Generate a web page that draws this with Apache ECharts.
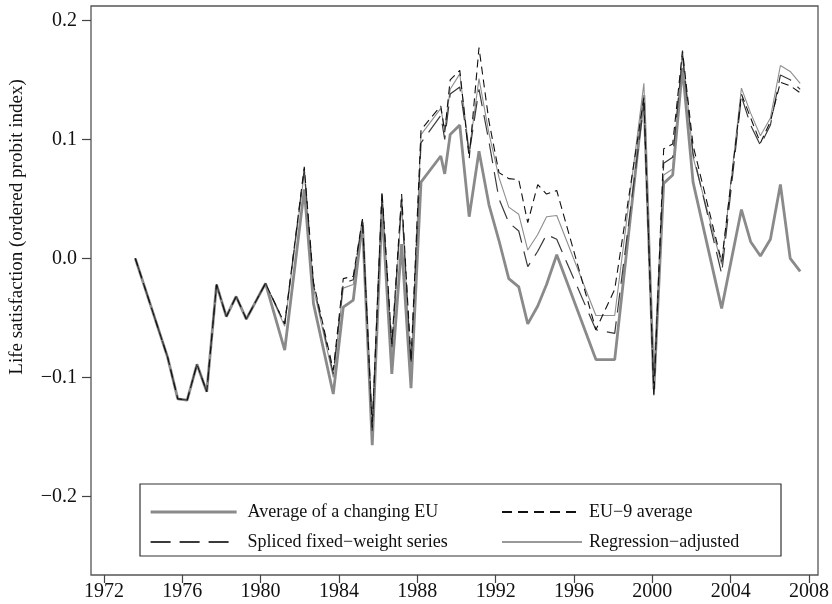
<!DOCTYPE html>
<html>
<head>
<meta charset="utf-8">
<script src="https://cdn.jsdelivr.net/npm/echarts@6/dist/echarts.min.js"></script>
<style>
html,body{margin:0;padding:0;background:#fff;}
#chart{width:832px;height:604px;}
</style>
</head>
<body>
<div id="chart"></div>
<script>
const years = [1973.6, 1975.25, 1975.77, 1976.25, 1976.75, 1977.25, 1977.75, 1978.25, 1978.75, 1979.27,
  1980.25, 1981.23, 1982.23, 1982.7, 1983.71, 1984.22, 1984.73, 1985.2, 1985.7, 1986.2,
  1986.7, 1987.2, 1987.68, 1988.19, 1989.2, 1989.4, 1989.68, 1990.17, 1990.65, 1991.15,
  1991.66, 1992.17, 1992.67, 1993.18, 1993.64, 1994.15, 1994.6, 1995.12, 1997.12, 1998.08,
  1999.57, 2000.08, 2000.58, 2001.04, 2001.54, 2002.08, 2003.54, 2004.55, 2005.02, 2005.52,
  2006.03, 2006.54, 2007.04, 2007.55];

const avgChangingEU = [0, -0.083, -0.118, -0.119, -0.089, -0.112, -0.022, -0.049, -0.032, -0.051,
  -0.021, -0.077, 0.058, -0.038, -0.114, -0.041, -0.035, 0.030, -0.157, 0.043,
  -0.097, 0.012, -0.109, 0.064, 0.086, 0.071, 0.104, 0.112, 0.035, 0.090,
  0.045, 0.015, -0.017, -0.024, -0.055, -0.040, -0.022, 0.003, -0.085, -0.085,
  0.137, -0.110, 0.063, 0.070, 0.160, 0.064, -0.042, 0.041, 0.014, 0.002,
  0.016, 0.062, 0.000, -0.011];

const eu9Average = [0, -0.083, -0.118, -0.119, -0.089, -0.112, -0.022, -0.049, -0.032, -0.051,
  -0.021, -0.055, 0.077, -0.020, -0.094, -0.017, -0.015, 0.033, -0.142, 0.056,
  -0.072, 0.054, -0.086, 0.108, 0.128, 0.106, 0.150, 0.158, 0.084, 0.177,
  0.115, 0.072, 0.067, 0.066, 0.030, 0.062, 0.054, 0.057, -0.060, -0.026,
  0.135, -0.115, 0.092, 0.096, 0.174, 0.095, -0.003, 0.138, 0.118, 0.097,
  0.115, 0.148, 0.145, 0.139];

const splicedFixedWeight = [0, -0.083, -0.118, -0.119, -0.089, -0.112, -0.022, -0.049, -0.032, -0.051,
  -0.021, -0.055, 0.075, -0.022, -0.097, -0.021, -0.018, 0.032, -0.145, 0.054,
  -0.075, 0.050, -0.090, 0.097, 0.120, 0.100, 0.138, 0.144, 0.088, 0.142,
  0.098, 0.050, 0.030, 0.023, -0.007, 0.006, 0.020, 0.016, -0.060, -0.063,
  0.130, -0.114, 0.080, 0.085, 0.170, 0.088, -0.013, 0.136, 0.112, 0.095,
  0.112, 0.154, 0.150, 0.142];

const regressionAdjusted = [0, -0.083, -0.118, -0.119, -0.089, -0.112, -0.022, -0.049, -0.032, -0.051,
  -0.021, -0.057, 0.072, -0.025, -0.100, -0.025, -0.022, 0.032, -0.148, 0.050,
  -0.080, 0.045, -0.095, 0.104, 0.126, 0.108, 0.142, 0.155, 0.090, 0.151,
  0.105, 0.068, 0.043, 0.037, 0.007, 0.020, 0.035, 0.036, -0.048, -0.048,
  0.147, -0.112, 0.070, 0.075, 0.175, 0.085, -0.005, 0.143, 0.122, 0.103,
  0.118, 0.162, 0.157, 0.147];

const xTickValues = [1972, 1976, 1980, 1984, 1988, 1992, 1996, 2000, 2004, 2008];
const yTickValues = [-0.2, -0.1, 0, 0.1, 0.2];

const seriesNames = ['Average of a changing EU', 'EU\u22129 average', 'Spliced fixed\u2212weight series', 'Regression\u2212adjusted'];
const yTitle = 'Life satisfaction (ordered probit index)';

const pairs = arr => years.map((y, i) => [y, arr[i]]);
const FONT = '"Liberation Serif", "DejaVu Serif", serif';

const chart = echarts.init(document.getElementById('chart'), null, {renderer: 'canvas'});
chart.setOption({
  animation: false,
  backgroundColor: '#fff',
  grid: {left: 91, right: 9, top: 6, bottom: 29, show: true, borderColor: '#555', borderWidth: 1.3, backgroundColor: 'transparent'},
  xAxis: {
    type: 'value', min: 1971.34, max: 2008.46,
    splitLine: {show: false},
    axisLine: {show: false, onZero: false},
    axisTick: {show: true, customValues: xTickValues, length: 8, lineStyle: {color: '#444', width: 1.2}},
    axisLabel: {customValues: xTickValues, fontFamily: FONT, fontSize: 20, color: '#111', margin: 7, formatter: v => String(v)}
  },
  yAxis: {
    type: 'value', min: -0.266, max: 0.212,
    splitLine: {show: false},
    axisLine: {show: false, onZero: false},
    axisTick: {show: true, customValues: yTickValues, length: 9, lineStyle: {color: '#444', width: 1.2}},
    axisLabel: {customValues: yTickValues, fontFamily: FONT, fontSize: 20, color: '#111', margin: 14,
      formatter: v => (v < -1e-9 ? '\u2212' : '') + Math.abs(v).toFixed(1)}
  },
  legend: [
    {data: [{name: seriesNames[0], lineStyle: {width: 3.2, color: '#8a8a8a'}}, {name: seriesNames[2]}],
      orient: 'vertical', left: 149, top: 503, itemWidth: 86, itemHeight: 14, itemGap: 12, padding: 0,
      itemStyle: {opacity: 0},
      textStyle: {fontFamily: FONT, fontSize: 18, color: '#111', padding: [0, 0, 0, 6]}},
    {data: [{name: seriesNames[1], lineStyle: {type: [10, 6]}}, {name: seriesNames[3], lineStyle: {color: '#999'}}],
      orient: 'vertical', left: 501, top: 503, itemWidth: 80, itemHeight: 14, itemGap: 12, padding: 0,
      itemStyle: {opacity: 0},
      textStyle: {fontFamily: FONT, fontSize: 18, color: '#111', padding: [0, 0, 0, 2]}}
  ],
  graphic: [
    {type: 'rect', z: -1, shape: {x: 140, y: 484, width: 641, height: 72}, style: {fill: '#fff', stroke: '#333', lineWidth: 1.2}},
    {type: 'text', x: 17, y: 227, rotation: Math.PI / 2, style: {text: yTitle, font: '19px ' + FONT, fill: '#111', textAlign: 'center', textVerticalAlign: 'middle'}}
  ],
  series: [
    {name: seriesNames[0], type: 'line', data: pairs(avgChangingEU), symbol: 'none', showSymbol: false, z: 2,
      lineStyle: {color: '#8a8a8a', width: 2.8}, itemStyle: {color: '#8a8a8a'}},
    {name: seriesNames[3], type: 'line', data: pairs(regressionAdjusted), symbol: 'none', showSymbol: false, z: 3,
      lineStyle: {color: '#8e8e8e', width: 1.1}, itemStyle: {color: '#8e8e8e'}},
    {name: seriesNames[2], type: 'line', data: pairs(splicedFixedWeight), symbol: 'none', showSymbol: false, z: 4,
      lineStyle: {color: '#3a3a3a', width: 1.2, type: [20, 9]}, itemStyle: {color: '#3a3a3a'}},
    {name: seriesNames[1], type: 'line', data: pairs(eu9Average), symbol: 'none', showSymbol: false, z: 5,
      lineStyle: {color: '#111', width: 1.1, type: [8, 5]}, itemStyle: {color: '#111'}}
  ]
});
</script>
</body>
</html>
